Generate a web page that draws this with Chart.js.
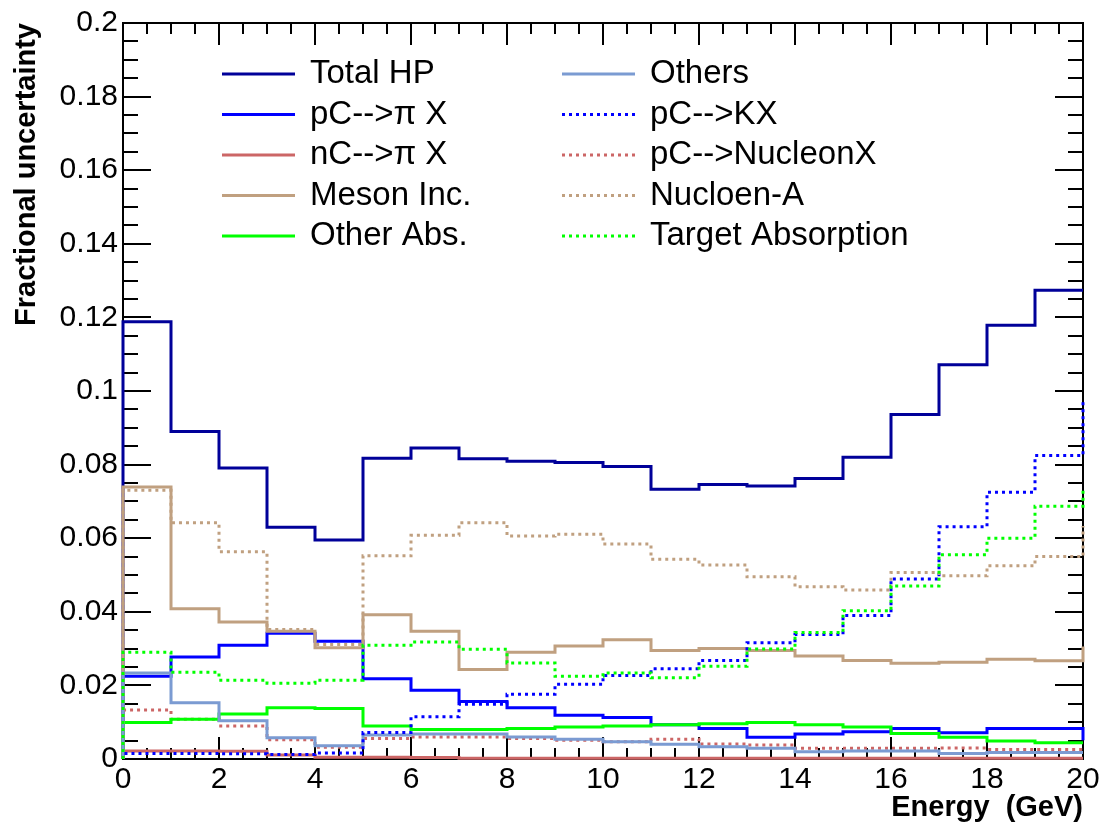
<!DOCTYPE html>
<html>
<head>
<meta charset="utf-8">
<title>Fractional uncertainty vs energy</title>
<script src="https://cdn.jsdelivr.net/npm/chart.js@4.4.1/dist/chart.umd.min.js"></script>
<style>
  html, body { margin: 0; padding: 0; background: #fff; }
  #wrap { width: 1099px; height: 827px; }
</style>
</head>
<body>
<div id="wrap"><canvas id="uncertaintyChart" width="1099" height="827"></canvas></div>
<script>
// Bin edges in GeV: 20 bins of 1 GeV
const energyEdges = [0, 1, 2, 3, 4, 5, 6, 7, 8, 9, 10, 11, 12, 13, 14, 15, 16, 17, 18, 19, 20];
const xTickLabels = ['0', '2', '4', '6', '8', '10', '12', '14', '16', '18', '20'];
const yTickLabels = ['0', '0.02', '0.04', '0.06', '0.08', '0.1', '0.12', '0.14', '0.16', '0.18', '0.2'];

// One value per bin; the 21st entry is the first bin above 20 GeV,
// only its left edge shows up at the frame.
const totalHP    = [0.1188, 0.0890, 0.0791, 0.0630, 0.0595, 0.0817, 0.0845, 0.0816, 0.0809, 0.0806,
                    0.0795, 0.0733, 0.0746, 0.0742, 0.0762, 0.0820, 0.0936, 0.1071, 0.1179, 0.1274, 0.1274];
const pCpiX      = [0.0225, 0.0277, 0.0309, 0.0342, 0.0320, 0.0218, 0.0187, 0.0156, 0.0139, 0.0119,
                    0.0113, 0.0093, 0.0083, 0.0059, 0.0068, 0.0074, 0.0083, 0.0071, 0.0083, 0.0083, 0.0051];
const nCpiX      = [0.0022, 0.0022, 0.0021, 0.0011, 0.0005, 0.0005, 0.0004, 0.0002, 0.0002, 0.0002,
                    0.0002, 0.0002, 0.0002, 0.0002, 0.0002, 0.0002, 0.0002, 0.0002, 0.0002, 0.0002, 0.0002];
const mesonInc   = [0.0739, 0.0408, 0.0372, 0.0347, 0.0302, 0.0392, 0.0347, 0.0243, 0.0290, 0.0307,
                    0.0324, 0.0295, 0.0300, 0.0295, 0.0280, 0.0268, 0.0260, 0.0263, 0.0271, 0.0267, 0.0306];
const otherAbs   = [0.0099, 0.0108, 0.0122, 0.0139, 0.0137, 0.0090, 0.0080, 0.0080, 0.0083, 0.0087,
                    0.0090, 0.0093, 0.0096, 0.0099, 0.0093, 0.0087, 0.0069, 0.0059, 0.0049, 0.0044, 0.0044];
const others     = [0.0234, 0.0153, 0.0104, 0.0058, 0.0036, 0.0065, 0.0068, 0.0068, 0.0060, 0.0054,
                    0.0047, 0.0040, 0.0033, 0.0029, 0.0020, 0.0022, 0.0022, 0.0015, 0.0018, 0.0018, 0.0018];
const pCKX       = [0.0015, 0.0015, 0.0014, 0.0012, 0.0016, 0.0072, 0.0115, 0.0149, 0.0176, 0.0203,
                    0.0227, 0.0245, 0.0268, 0.0316, 0.0338, 0.0390, 0.0489, 0.0631, 0.0725, 0.0825, 0.0976];
const pCNucleonX = [0.0133, 0.0108, 0.0090, 0.0052, 0.0032, 0.0056, 0.0060, 0.0060, 0.0056, 0.0051,
                    0.0047, 0.0054, 0.0041, 0.0038, 0.0029, 0.0029, 0.0029, 0.0030, 0.0026, 0.0026, 0.0026];
const nucleonA   = [0.0730, 0.0642, 0.0563, 0.0352, 0.0311, 0.0552, 0.0608, 0.0642, 0.0606, 0.0611,
                    0.0584, 0.0543, 0.0527, 0.0495, 0.0468, 0.0459, 0.0507, 0.0498, 0.0525, 0.0550, 0.0633];
const targetAbs  = [0.0290, 0.0236, 0.0214, 0.0206, 0.0214, 0.0309, 0.0318, 0.0298, 0.0261, 0.0225,
                    0.0234, 0.0221, 0.0252, 0.0299, 0.0344, 0.0403, 0.0470, 0.0555, 0.0600, 0.0687, 0.0737];

const FONT = '"Liberation Sans", Arial, Helvetica, sans-serif';
const DOTS = [3, 4];

// histogram outline: rise from zero at the first edge, then one step per bin
function stepPoints(values) {
    const pts = [{ x: energyEdges[0], y: 0 }];
    values.forEach((v, i) => pts.push({ x: energyEdges[i], y: v }));
    return pts;
}

function hist(label, values, color, dash, order) {
    return {
        label: label,
        data: stepPoints(values),
        borderColor: color,
        backgroundColor: color,
        borderWidth: 3,
        borderDash: dash || [],
        stepped: 'before',
        pointRadius: 0,
        pointHoverRadius: 0,
        fill: false,
        clip: 3,
        order: order
    };
}

// frame with inward ticks on all four sides
const rootFrame = {
    id: 'rootFrame',
    beforeDatasetsDraw(chart) {
        const { ctx, chartArea: a, scales: { x, y } } = chart;
        ctx.save();
        ctx.strokeStyle = '#000';
        ctx.lineWidth = 2;
        ctx.beginPath();
        for (let i = 0; i <= 40; i++) {
            const px = Math.round(x.getPixelForValue(i * 0.5));
            const len = i % 4 === 0 ? 22 : 11;
            ctx.moveTo(px, a.bottom); ctx.lineTo(px, a.bottom - len);
            ctx.moveTo(px, a.top); ctx.lineTo(px, a.top + len);
        }
        for (let i = 0; i <= 40; i++) {
            const py = Math.round(y.getPixelForValue(i * 0.005));
            const len = i % 4 === 0 ? 28 : 15;
            ctx.moveTo(a.left, py); ctx.lineTo(a.left + len, py);
            ctx.moveTo(a.right, py); ctx.lineTo(a.right - len, py);
        }
        ctx.stroke();
        ctx.strokeRect(a.left, a.top, a.right - a.left, a.bottom - a.top);
        ctx.restore();
    }
};

// two-column legend, first five entries left, rest right
const histLegend = {
    id: 'histLegend',
    afterDatasetsDraw(chart) {
        const ctx = chart.ctx;
        ctx.save();
        ctx.font = '33px ' + FONT;
        ctx.textBaseline = 'middle';
        ctx.textAlign = 'left';
        chart.data.datasets.forEach((ds, i) => {
            const x0 = i < 5 ? 222 : 562;
            const yy = 74 + (i % 5) * 40.5;
            ctx.beginPath();
            ctx.setLineDash(ds.borderDash);
            ctx.strokeStyle = ds.borderColor;
            ctx.lineWidth = 3;
            ctx.moveTo(x0, yy);
            ctx.lineTo(x0 + 73, yy);
            ctx.stroke();
            ctx.setLineDash([]);
            ctx.fillStyle = '#000';
            ctx.fillText(ds.label, x0 + 88, yy);
        });
        ctx.restore();
    }
};

Chart.defaults.font.family = FONT;
Chart.defaults.color = '#000';

const ctx = document.getElementById('uncertaintyChart').getContext('2d');
new Chart(ctx, {
    type: 'line',
    data: {
        datasets: [
            hist('Total HP', totalHP, '#000099', null, 9),
            hist('pC-->\u03c0 X', pCpiX, '#0000ff', null, 8),
            hist('nC-->\u03c0 X', nCpiX, '#cc6666', null, 7),
            hist('Meson Inc.', mesonInc, '#c0a080', null, 6),
            hist('Other Abs.', otherAbs, '#00ff00', null, 5),
            hist('Others', others, '#7b9bd2', null, 4),
            hist('pC-->KX', pCKX, '#0000ff', DOTS, 3),
            hist('pC-->NucleonX', pCNucleonX, '#cc6666', DOTS, 5.5),
            hist('Nucloen-A', nucleonA, '#c0a080', DOTS, 1),
            hist('Target Absorption', targetAbs, '#00ff00', DOTS, 0)
        ]
    },
    options: {
        responsive: false,
        devicePixelRatio: 1,
        animation: false,
        events: [],
        layout: { padding: { top: 20, right: 16, left: 0, bottom: 0 } },
        plugins: {
            legend: { display: false },
            tooltip: { enabled: false }
        },
        scales: {
            x: {
                type: 'linear',
                min: 0,
                max: 20,
                afterFit: function(scale) {
                    scale.height = 68;
                    // let the end labels hang over the frame edges
                    scale.paddingLeft = 0;
                    scale.paddingRight = 0;
                },
                grid: { display: false, drawTicks: false },
                border: { display: false },
                ticks: {
                    stepSize: 2,
                    autoSkip: false,
                    maxRotation: 0,
                    padding: 3,
                    font: { size: 30 },
                    callback: function(value, index) { return xTickLabels[index]; }
                },
                title: {
                    display: true,
                    text: 'Energy  (GeV)',
                    align: 'end',
                    padding: { top: 0, bottom: 2 },
                    font: { size: 29, weight: 'bold' }
                }
            },
            y: {
                min: 0,
                max: 0.2,
                afterFit: function(scale) { scale.width = 123; },
                grid: { display: false, drawTicks: false },
                border: { display: false },
                ticks: {
                    stepSize: 0.02,
                    padding: 5,
                    font: { size: 30 },
                    callback: function(value, index) { return yTickLabels[index]; }
                },
                title: {
                    display: true,
                    text: 'Fractional uncertainty',
                    align: 'end',
                    padding: { top: 10, bottom: 0 },
                    font: { size: 29, weight: 'bold' }
                }
            }
        }
    },
    plugins: [rootFrame, histLegend]
});
</script>
</body>
</html>
